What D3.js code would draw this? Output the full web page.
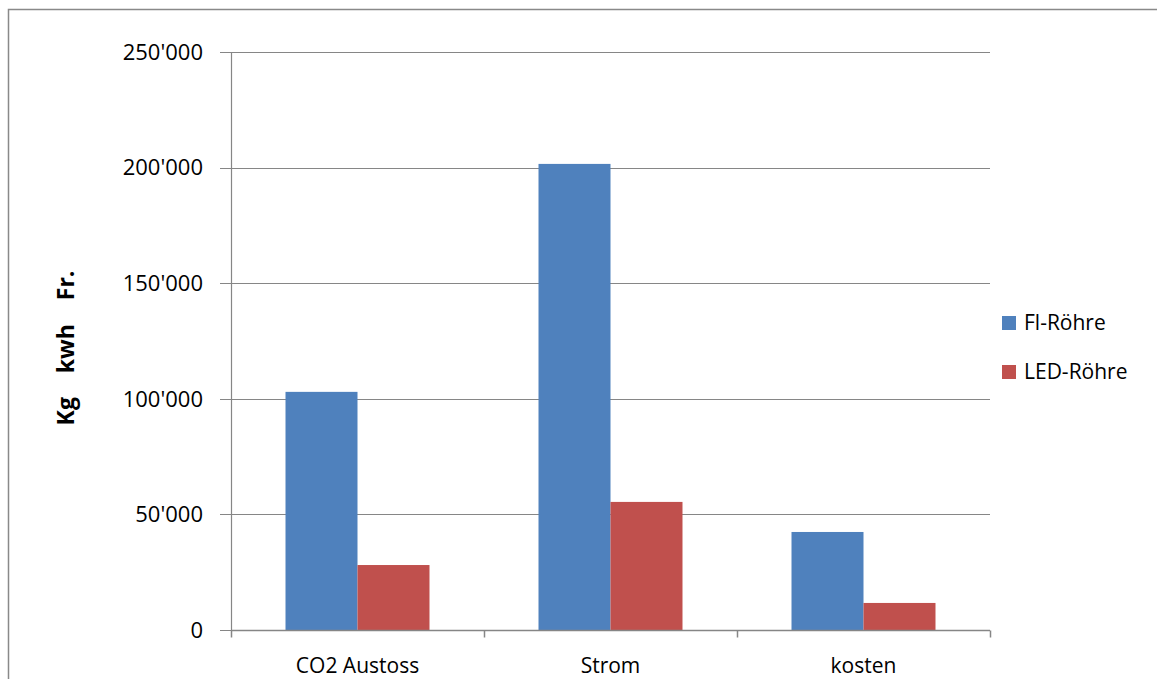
<!DOCTYPE html>
<html>
<head>
<meta charset="utf-8">
<script src="https://cdn.jsdelivr.net/npm/d3@7"></script>
<style>
  body { margin: 0; background: #fff; }
  svg { display: block; font-family: "Open Sans", sans-serif; }
</style>
</head>
<body>
<div id="chart"></div>
<script>
const categories = ["CO2 Austoss", "Strom", "kosten"];
const seriesNames = ["Fl-Röhre", "LED-Röhre"];
const flValues = [103000, 201600, 42400];
const ledValues = [28100, 55400, 11700];
const yTicks = [0, 50000, 100000, 150000, 200000, 250000];
const colors = ["#4f81bd", "#c0504d"];

const width = 1157;
const height = 679;
const margin = { left: 231, right: 167, top: 52, bottom: 49 };

const svg = d3.select("#chart").append("svg")
  .attr("width", width)
  .attr("height", height);

// outer frame
svg.append("path")
  .attr("d", `M8.5,${height + 5}V9.5H${width + 5}`)
  .attr("fill", "none")
  .attr("stroke", "#898989")
  .attr("stroke-width", 1.5);

const x0 = d3.scaleBand()
  .domain(categories)
  .range([margin.left, width - margin.right])
  .padding(0);

const x1 = d3.scaleBand()
  .domain(seriesNames)
  .range([0, x0.bandwidth()])
  .paddingInner(0)
  .paddingOuter(0.757);

const y = d3.scaleLinear()
  .domain([0, 250000])
  .range([height - margin.bottom, margin.top]);

const fmt = v => d3.format(",")(v).replace(/,/g, "'");

// gridlines + y ticks
svg.append("g")
  .selectAll("line")
  .data(yTicks)
  .join("line")
  .attr("x1", margin.left - 11)
  .attr("x2", width - margin.right)
  .attr("y1", d => Math.round(y(d)) + 0.5)
  .attr("y2", d => Math.round(y(d)) + 0.5)
  .attr("stroke", "#868686")
  .attr("stroke-width", 1.2);

svg.append("g")
  .selectAll("text")
  .data(yTicks)
  .join("text")
  .attr("x", margin.left - 28)
  .attr("y", d => y(d))
  .attr("dy", "0.35em")
  .attr("text-anchor", "end")
  .style("font-size", "22px")
  .text(d => fmt(d));

// bars
const rows = categories.map((c, i) => ({ cat: c, vals: [flValues[i], ledValues[i]] }));
const groups = svg.append("g")
  .selectAll("g")
  .data(rows)
  .join("g")
  .attr("transform", d => `translate(${x0(d.cat)},0)`);

groups.selectAll("rect")
  .data(d => d.vals.map((v, j) => ({ name: seriesNames[j], v: v, j: j })))
  .join("rect")
  .attr("x", d => x1(d.name))
  .attr("width", x1.bandwidth())
  .attr("y", d => y(d.v))
  .attr("height", d => y(0) - y(d.v))
  .attr("fill", d => colors[d.j]);

// y axis line
svg.append("line")
  .attr("x1", margin.left + 0.5).attr("x2", margin.left + 0.5)
  .attr("y1", y(250000)).attr("y2", y(0))
  .attr("stroke", "#868686").attr("stroke-width", 1.2);

// x axis
const xAxisY = Math.round(y(0)) + 0.5;
svg.append("line")
  .attr("x1", margin.left).attr("x2", width - margin.right)
  .attr("y1", xAxisY).attr("y2", xAxisY)
  .attr("stroke", "#868686").attr("stroke-width", 1.5);

const tickXs = categories.map(c => x0(c)).concat([x0(categories[categories.length - 1]) + x0.bandwidth()]);
svg.append("g")
  .selectAll("line")
  .data(tickXs)
  .join("line")
  .attr("x1", d => Math.round(d) + 0.5)
  .attr("x2", d => Math.round(d) + 0.5)
  .attr("y1", xAxisY)
  .attr("y2", xAxisY + 7)
  .attr("stroke", "#868686")
  .attr("stroke-width", 1.5);

svg.append("g")
  .selectAll("text")
  .data(categories)
  .join("text")
  .attr("x", d => x0(d) + x0.bandwidth() / 2)
  .attr("y", 673)
  .attr("text-anchor", "middle")
  .style("font-size", "21px")
  .text(d => d);

// y title
svg.append("text")
  .attr("transform", "translate(74,348) rotate(-90)")
  .attr("text-anchor", "middle")
  .style("font-size", "23px")
  .style("font-weight", "bold")
  .attr("xml:space", "preserve")
  .text("Kg    kwh    Fr.");

// legend
const legend = svg.append("g")
  .selectAll("g")
  .data(seriesNames)
  .join("g")
  .attr("transform", (d, i) => `translate(1002,${316 + i * 49})`);

legend.append("rect")
  .attr("width", 14).attr("height", 14)
  .attr("fill", (d, i) => colors[i]);

legend.append("text")
  .attr("x", 22)
  .attr("y", 7)
  .attr("dy", "0.35em")
  .style("font-size", "21px")
  .text(d => d);
</script>
</body>
</html>
